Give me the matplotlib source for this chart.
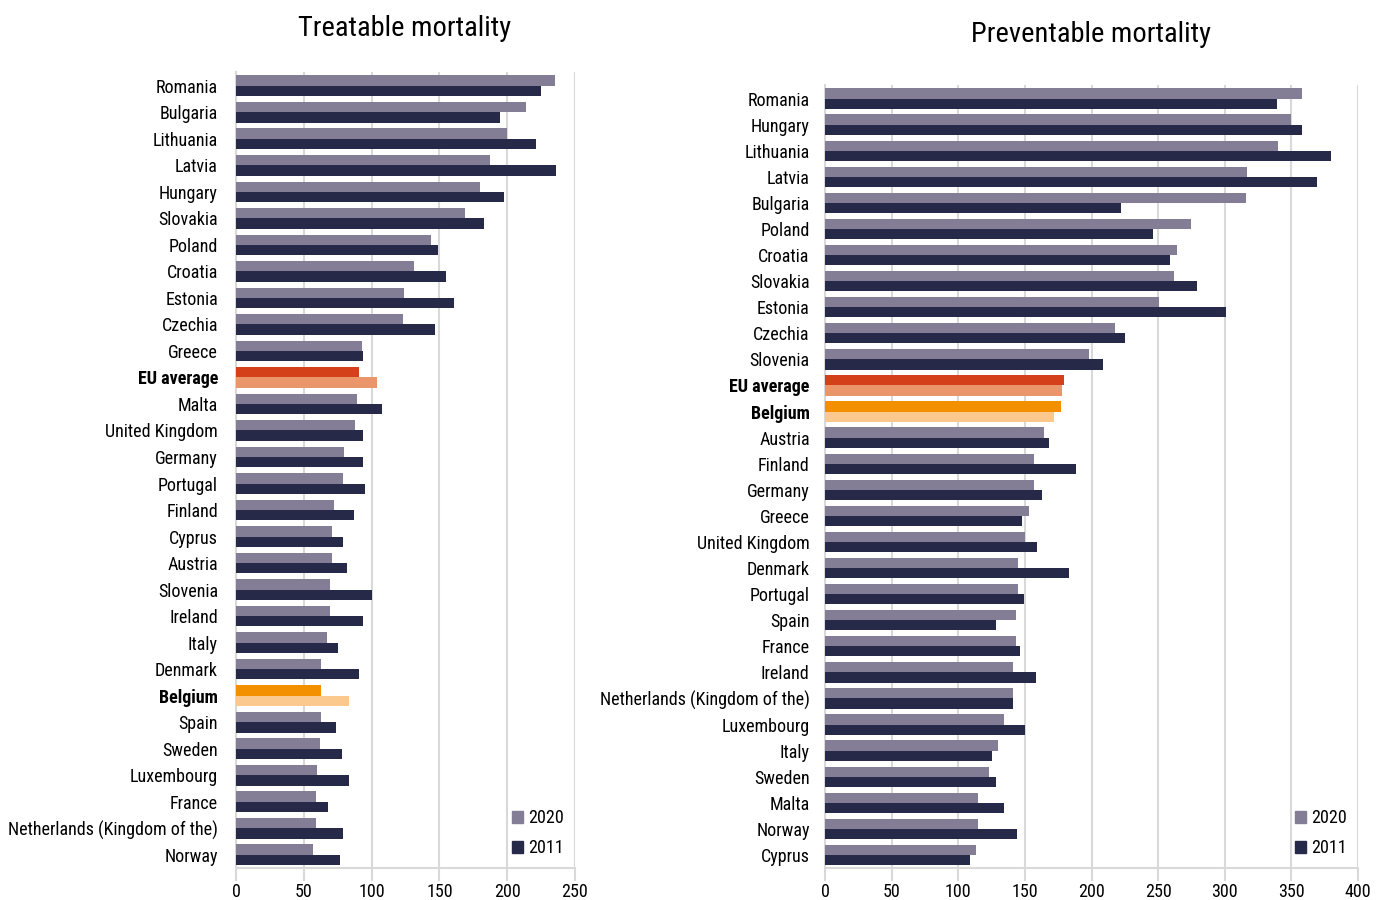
import matplotlib
matplotlib.use("Agg")
import matplotlib.pyplot as plt
from matplotlib.patches import Patch
from matplotlib import font_manager

names = {f.name for f in font_manager.fontManager.ttflist}
fam = None
STRETCH = 'normal'
for cand in ['Roboto Condensed', 'Liberation Sans Narrow', 'DejaVu Sans Condensed', 'Open Sans Condensed']:
    if cand in names:
        fam = cand
        break
if fam is None:
    fam = 'DejaVu Sans'
    STRETCH = 'condensed'
plt.rcParams['font.family'] = [fam, 'DejaVu Sans']
plt.rcParams['font.stretch'] = STRETCH

# Treatable mortality
t_countries = ["Romania", "Bulgaria", "Lithuania", "Latvia", "Hungary", "Slovakia", "Poland",
               "Croatia", "Estonia", "Czechia", "Greece", "EU average", "Malta", "United Kingdom",
               "Germany", "Portugal", "Finland", "Cyprus", "Austria", "Slovenia", "Ireland",
               "Italy", "Denmark", "Belgium", "Spain", "Sweden", "Luxembourg", "France",
               "Netherlands (Kingdom of the)", "Norway"]
t_2020 = [235, 214, 200, 187, 180, 169, 144, 131, 124, 123, 93, 91, 89, 88, 80, 79, 72, 71, 71,
          69, 69, 67, 63, 63, 63, 62, 60, 59, 59, 57]
t_2011 = [225, 195, 221, 236, 198, 183, 149, 155, 161, 147, 94, 104, 108, 94, 94, 95, 87, 79, 82,
          100, 94, 75, 91, 83, 74, 78, 83, 68, 79, 77]

# Preventable mortality
p_countries = ["Romania", "Hungary", "Lithuania", "Latvia", "Bulgaria", "Poland", "Croatia",
               "Slovakia", "Estonia", "Czechia", "Slovenia", "EU average", "Belgium", "Austria",
               "Finland", "Germany", "Greece", "United Kingdom", "Denmark", "Portugal", "Spain",
               "France", "Ireland", "Netherlands (Kingdom of the)", "Luxembourg", "Italy",
               "Sweden", "Malta", "Norway", "Cyprus"]
p_2020 = [358, 350, 340, 317, 316, 275, 264, 262, 251, 218, 198, 179, 177, 164, 157, 157, 153,
          150, 145, 145, 143, 143, 141, 141, 134, 130, 123, 115, 115, 113]
p_2011 = [339, 358, 380, 369, 222, 246, 259, 279, 301, 225, 209, 178, 172, 168, 188, 163, 148,
          159, 183, 149, 128, 146, 158, 141, 150, 125, 128, 134, 144, 109]

C2020, C2011 = "#837d96", "#262a48"
EU2020, EU2011 = "#d4401a", "#eb956b"
BE2020, BE2011 = "#f39000", "#fbc98e"
GRID = "#d9d9d9"

fig = plt.figure(figsize=(13.84, 9), dpi=100)
ax1 = fig.add_axes([236/1384, 1-868/900, (575-236)/1384, (868-72)/900])
ax2 = fig.add_axes([825/1384, 1-868/900, (1358-825)/1384, (868-85)/900])

FS = 13


def draw(ax, countries, v20, v11, xmax, ypad):
    h = 0.39
    n = len(countries)
    for i, c in enumerate(countries):
        if c == "EU average":
            a, b = EU2020, EU2011
        elif c == "Belgium":
            a, b = BE2020, BE2011
        else:
            a, b = C2020, C2011
        ax.barh(i - h/2, v20[i], height=h, color=a, zorder=3)
        ax.barh(i + h/2, v11[i], height=h, color=b, zorder=3)
    ax.set_ylim(n - 0.5, -0.52)
    ax.set_xlim(0, xmax)
    ax.set_xticks(range(0, xmax + 1, 50))
    ax.set_yticks(range(n))
    ax.set_yticklabels(countries)
    for lbl in ax.get_yticklabels():
        if lbl.get_text() in ("EU average", "Belgium"):
            lbl.set_fontweight("bold")
    ax.tick_params(axis='y', length=0, pad=ypad, labelsize=FS, labelcolor="#000000")
    ax.tick_params(axis='x', length=9, width=1.5, color=GRID, pad=2, labelsize=FS)
    ax.grid(axis='x', color=GRID, linewidth=1.5, zorder=0)
    for s in ("top", "right"):
        ax.spines[s].set_visible(False)
    for s in ("left", "bottom"):
        ax.spines[s].set_color(GRID)
        ax.spines[s].set_linewidth(1.5)
    handles = [Patch(color=C2020, label="2020"), Patch(color=C2011, label="2011")]
    ax.legend(handles=handles, loc="lower right", bbox_to_anchor=(1.0, 0.0), frameon=False,
              handlelength=0.6, handleheight=0.6, handletextpad=0.3, labelspacing=0.65,
              fontsize=FS, borderaxespad=0.2)


draw(ax1, t_countries, t_2020, t_2011, 250, 13)
draw(ax2, p_countries, p_2020, p_2011, 400, 11)
fig.text(405/1384, 1-28/900, "Treatable mortality", ha="center", va="center", fontsize=20.5)
fig.text(1091/1384, 1-34/900, "Preventable mortality", ha="center", va="center", fontsize=20.5)

fig.savefig("out.png", dpi=100)
